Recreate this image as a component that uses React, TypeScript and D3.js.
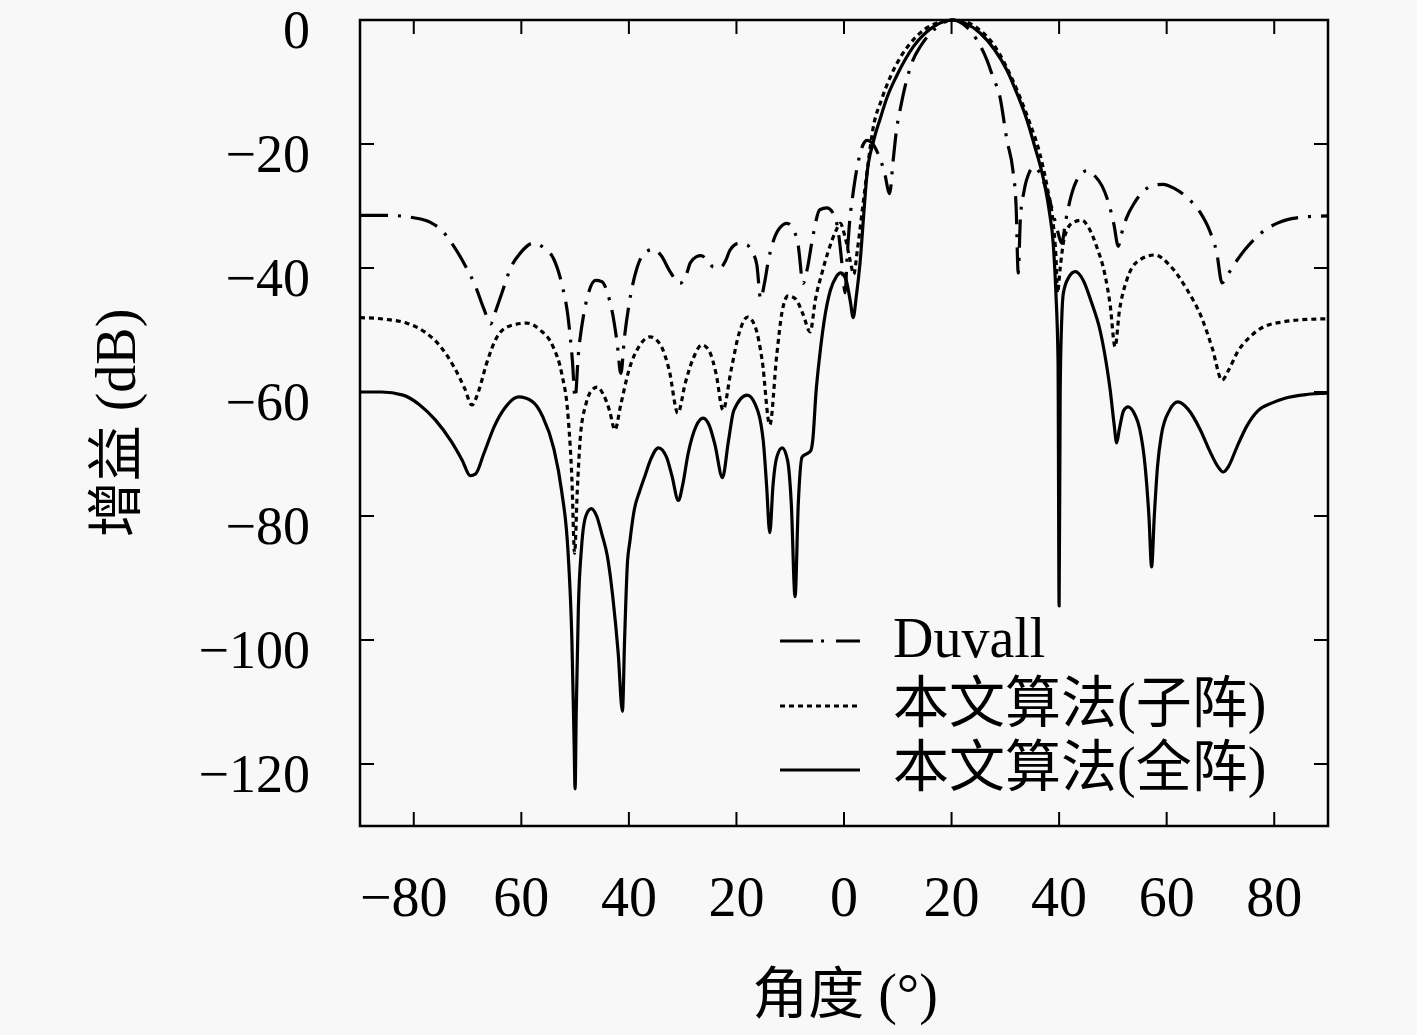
import React from "react";
import * as d3 from "d3";

// ---------- data ----------
const xTickValues = [-80, -60, -40, -20, 0, 20, 40, 60, 80];
const xTickLabels = ["\u221280", "60", "40", "20", "0", "20", "40", "60", "80"];
const yTickValues = [0, -20, -40, -60, -80, -100, -120];
const yTickLabels = ["0", "\u221220", "\u221240", "\u221260", "\u221280", "\u2212100", "\u2212120"];

const seriesNames = ["Duvall", "本文算法(子阵)", "本文算法(全阵)"];

// Duvall  [angle deg, gain dB]
const duvall: [number, number][] = [
  [-90, -31.5], [-85, -31.5], [-80, -31.9], [-77, -32.6], [-74.5, -34.2], [-72.7, -36.3],
  [-70.5, -39.5], [-68.5, -43], [-67, -46.5], [-65.7, -49], [-64.8, -47], [-63.6, -44],
  [-62, -40], [-60.2, -37.6], [-57.8, -36], [-55.5, -37], [-54, -38.5], [-52.5, -42.5],
  [-51.3, -48], [-50.5, -55], [-50, -61], [-49.4, -54], [-48.5, -48], [-47.5, -44],
  [-46.2, -42], [-45, -42.2], [-44, -44], [-43, -47.5], [-42.2, -52], [-41.5, -57],
  [-40.8, -51], [-40, -46], [-38.5, -40], [-37, -37.5], [-35.5, -37], [-34, -38],
  [-32.4, -40.5], [-30.5, -42.5], [-29.3, -41], [-28.6, -39.2], [-27.5, -38.2], [-26.6, -38],
  [-25.2, -39], [-24.4, -39.8], [-23.1, -40], [-22, -38.8], [-21.2, -37.1], [-19.5, -36],
  [-18, -36.3], [-17, -37.5], [-16.2, -39.5], [-15.5, -45], [-14.8, -42.5], [-14, -38.5],
  [-13.2, -35.8], [-12, -33.6], [-10.6, -32.8], [-9.5, -33.6], [-8.5, -36.5], [-7.6, -42.5],
  [-6.8, -40], [-5.8, -35], [-4.5, -30.6], [-3.2, -30.3], [-2.0, -31.2], [-1.0, -34.5],
  [-0.3, -40], [0.2, -44], [0.6, -38], [1.1, -32], [1.6, -28.5], [2.5, -23.5],
  [3.5, -20.2], [4.3, -19.4], [5.2, -19.8], [6.3, -21.5], [7.5, -24.5], [8.5, -28],
  [9.1, -23], [9.8, -17.5], [10.5, -14.2], [11.7, -9.5], [12.8, -6.5], [14.1, -4.4],
  [16, -2.2], [18, -0.7], [20, 0], [22.5, -0.9], [24.7, -3.2], [26.6, -6.5],
  [27.7, -9.2], [29, -12.4], [30.3, -19.4], [31.4, -24.2], [32.0, -30], [32.4, -40.8],
  [32.8, -32], [33.5, -27.5], [34.5, -24.5], [35.3, -23.7], [36.3, -24.5], [37.5, -27],
  [38.7, -30.5], [39.7, -34], [40.5, -36], [41.2, -32.5], [42.2, -28.5], [43.5, -25.5],
  [45.2, -24.3], [46.7, -25.2], [48, -26.8], [49.2, -29.5], [50.2, -33], [51, -36.5],
  [51.6, -34.5], [52.5, -32], [54, -29.5], [55.8, -27.5], [57.5, -26.7], [59.3, -26.5],
  [61.5, -27.2], [64, -28.8], [66.2, -31], [68, -34], [69.3, -37.5], [70.3, -42.4],
  [71.2, -41.3], [72.5, -39.5], [74.5, -37.1], [77.5, -34.4], [80.5, -32.8], [83.5, -32],
  [86.5, -31.7], [90, -31.6],
];

// 本文算法(子阵)
const subArray: [number, number][] = [
  [-90, -48], [-85, -48.3], [-81.3, -48.9], [-78, -50.3], [-75, -52.7], [-72.5, -56],
  [-70.5, -59.5], [-69.2, -62.1], [-68, -60], [-66.5, -55.5], [-64.5, -51.1], [-62, -49.3],
  [-59, -48.9], [-56.5, -50], [-54.1, -52.7], [-52.5, -57], [-51.3, -64], [-50.6, -74],
  [-50.1, -86], [-49.6, -76], [-49, -67], [-48, -62], [-47, -59.8], [-45.9, -59.2],
  [-44.8, -60.3], [-43.6, -63], [-42.6, -66.1], [-41.5, -62], [-40, -56.5], [-38, -52.5],
  [-36.1, -51.1], [-34.2, -52.3], [-32.5, -56.5], [-30.9, -63.4], [-29.5, -58.5], [-28, -54.5],
  [-26.4, -52.4], [-25, -53.5], [-23.8, -57], [-22.5, -62.9], [-21, -56.5], [-19.5, -50.5],
  [-17.9, -47.9], [-16.5, -49.5], [-15.2, -55], [-13.8, -65.3], [-12.5, -54], [-11.5, -47],
  [-10.4, -44.5], [-9, -45], [-7.6, -47.5], [-6.3, -50.3], [-5.3, -45], [-4, -40.5],
  [-3, -37.5], [-1.5, -34], [-0.7, -32.8], [0.2, -35], [1.2, -39], [1.8, -41],
  [2.5, -37], [3.5, -30], [4.5, -23], [5.4, -17.5], [7, -12.8], [8.6, -9.2],
  [10.5, -6], [12.3, -3.8], [15, -1.5], [18, -0.3], [20.5, 0], [23.5, -0.6],
  [25.5, -1.8], [27.7, -3.8], [30, -7.2], [32.7, -12.4], [34.5, -16.5], [36.4, -21.5],
  [37.8, -27], [38.9, -32.8], [39.4, -38], [39.7, -44], [40.2, -40], [41, -35],
  [42.5, -32.7], [44.2, -32.3], [45.5, -33.5], [47, -36.6], [48.5, -41], [49.5, -46],
  [50.4, -52.7], [51.2, -47], [52.6, -41.9], [54.5, -39], [57.8, -37.9], [60.5, -39.5],
  [63.8, -43.5], [66.5, -48], [68.5, -53], [70.3, -58.1], [71.5, -56.5], [73.2, -53.5],
  [75.5, -51.1], [78, -49.5], [81.6, -48.7], [86, -48.3], [90, -48.2],
];

// 本文算法(全阵)
const fullArray: [number, number][] = [
  [-90, -60], [-86, -60], [-82, -60.5], [-79, -62], [-76, -64.5], [-73, -68],
  [-71, -71], [-69.5, -73.5], [-68.5, -73.2], [-67, -70], [-65, -65.5], [-63, -62.5],
  [-60.5, -60.8], [-58, -61.5], [-56, -64], [-54, -69], [-52.5, -76], [-51.3, -86],
  [-50.6, -100], [-50.2, -116], [-50.0, -124], [-49.8, -112], [-49.4, -95], [-48.8, -85],
  [-48, -80], [-47, -78.8], [-46, -80], [-45, -83], [-44, -86.5], [-43, -93],
  [-42, -102], [-41.2, -111.5], [-40.8, -100], [-40.3, -88], [-39.8, -84], [-39, -79],
  [-38, -76], [-37, -73.5], [-36, -71], [-34.5, -69], [-33, -70.5], [-32, -73.5],
  [-30.8, -77.5], [-30, -75], [-29, -70], [-27.5, -65.5], [-26.2, -64.2], [-25, -65.5],
  [-24, -68.5], [-22.6, -73.8], [-21.5, -68], [-20.5, -63], [-18, -60.5], [-16.5, -62],
  [-15, -68], [-14.4, -75], [-13.8, -82.7], [-13.2, -75], [-12.5, -70.5], [-11.5, -69],
  [-10.5, -71], [-9.8, -78], [-9.1, -93], [-8.5, -78], [-7.8, -70.5], [-7, -70],
  [-6.2, -69.5], [-5.8, -67.7], [-5.2, -60], [-4.5, -54], [-3.5, -47.5], [-2.5, -43.5],
  [-1.5, -41.5], [-0.6, -40.8], [0.4, -42], [1.2, -45.5], [1.7, -48], [2.3, -44.5],
  [3.0, -39], [3.7, -31], [4.2, -25.5], [5.5, -19.5], [6.7, -16], [8, -12.5],
  [9.8, -9], [12.9, -4.3], [16.6, -1.1], [20.3, 0], [22.5, -0.5], [25.3, -2.1],
  [28, -4.8], [30.3, -8.1], [32, -11.5], [34, -16.1], [35.5, -20.5], [37, -25.3],
  [38.2, -31], [38.9, -36], [39.4, -44], [39.8, -55], [40.0, -94.5], [40.2, -60],
  [40.5, -48], [40.8, -44], [41.8, -41.5], [43, -40.6], [44.5, -42], [46, -45.5],
  [47.6, -50], [48.7, -55], [49.5, -59.7], [50.2, -65], [50.7, -68.2], [51.2, -66],
  [52, -63], [52.8, -62.4], [54, -63.5], [55, -66], [56, -72], [56.7, -80],
  [57.2, -88.2], [57.7, -80], [58.3, -72], [59, -67], [60.5, -63], [62.1, -61.6],
  [64, -62.8], [66.2, -66], [68, -69.5], [69.5, -72], [70.5, -72.9], [71.5, -72],
  [73, -69], [74.9, -65.5], [77, -63], [79.5, -61.8], [82, -61], [86, -60.4],
  [90, -60.2],
];

const seriesData = [duvall, subArray, fullArray];
const seriesDash = ["28 10 3 10", "5 4", "none"];

// ---------- layout ----------
const W = 1417;
const H = 1035;
const PL = 360, PR = 1328, PT = 20, PB = 826;
const SERIF = "'Liberation Serif', 'Noto Sans CJK SC', serif";

export default function App() {
  const x = d3.scaleLinear().domain([-90, 90]).range([PL, PR]);
  const y = d3.scaleLinear().domain([-130, 0]).range([PB, PT]);
  const line = d3
    .line<[number, number]>()
    .x((d) => x(d[0]))
    .y((d) => y(d[1]))
    .curve(d3.curveMonotoneX);

  const legendX0 = 780, legendX1 = 860, legendTextX = 893;
  const legendYs = [641, 706, 770];

  return (
    <svg
      width={W}
      height={H}
      style={{ position: "absolute", left: 0, top: 0, display: "block" }}
    >
      <rect x={0} y={0} width={W} height={H} fill="#f8f8f8" />
      <defs>
        <clipPath id="plotclip">
          <rect x={PL} y={PT - 2} width={PR - PL} height={PB - PT + 2} />
        </clipPath>
      </defs>

      <g clipPath="url(#plotclip)">
        {seriesData.map((s, i) => (
          <path
            key={i}
            d={line(s) || ""}
            fill="none"
            stroke="#000"
            strokeWidth={3.2}
            strokeDasharray={seriesDash[i]}
            strokeLinejoin="round"
          />
        ))}
      </g>

      {/* frame */}
      <rect x={PL} y={PT} width={PR - PL} height={PB - PT} fill="none" stroke="#000" strokeWidth={2.5} />

      {/* x ticks (bottom + top, inside) */}
      {xTickValues.map((v, i) => (
        <g key={"xt" + i}>
          <line x1={x(v)} x2={x(v)} y1={PB} y2={PB - 14} stroke="#000" strokeWidth={2} />
          <line x1={x(v)} x2={x(v)} y1={PT} y2={PT + 14} stroke="#000" strokeWidth={2} />
          <text
            x={x(v) + (i === 0 ? -10 : 0)}
            y={916}
            textAnchor="middle"
            fontFamily={SERIF}
            fontSize={56}
            fill="#000"
          >
            {xTickLabels[i]}
          </text>
        </g>
      ))}

      {/* y ticks (left + right, inside) */}
      {yTickValues.map((v, i) => (
        <g key={"yt" + i}>
          <line x1={PL} x2={PL + 14} y1={y(v)} y2={y(v)} stroke="#000" strokeWidth={2} />
          <line x1={PR} x2={PR - 14} y1={y(v)} y2={y(v)} stroke="#000" strokeWidth={2} />
          <text
            x={310}
            y={y(v) + 28}
            textAnchor="end"
            fontFamily={SERIF}
            fontSize={54}
            fill="#000"
          >
            {yTickLabels[i]}
          </text>
        </g>
      ))}

      {/* axis titles */}
      <text x={845} y={1013} textAnchor="middle" fontFamily={SERIF} fontSize={56} fill="#000">
        角度 (°)
      </text>
      <text
        transform={`translate(135, 423) rotate(-90)`}
        textAnchor="middle"
        fontFamily={SERIF}
        fontSize={56}
        fill="#000"
      >
        增益 (dB)
      </text>

      {/* legend */}
      {seriesNames.map((name, i) => (
        <g key={"lg" + i}>
          <line
            x1={legendX0}
            x2={legendX1}
            y1={legendYs[i]}
            y2={legendYs[i]}
            stroke="#000"
            strokeWidth={3.2}
            strokeDasharray={i === 0 ? "33 8 3 12" : seriesDash[i]}
          />
          <text
            x={legendTextX}
            y={legendYs[i] + 16}
            fontFamily={SERIF}
            fontSize={56}
            fill="#000"
          >
            {name}
          </text>
        </g>
      ))}
    </svg>
  );
}
